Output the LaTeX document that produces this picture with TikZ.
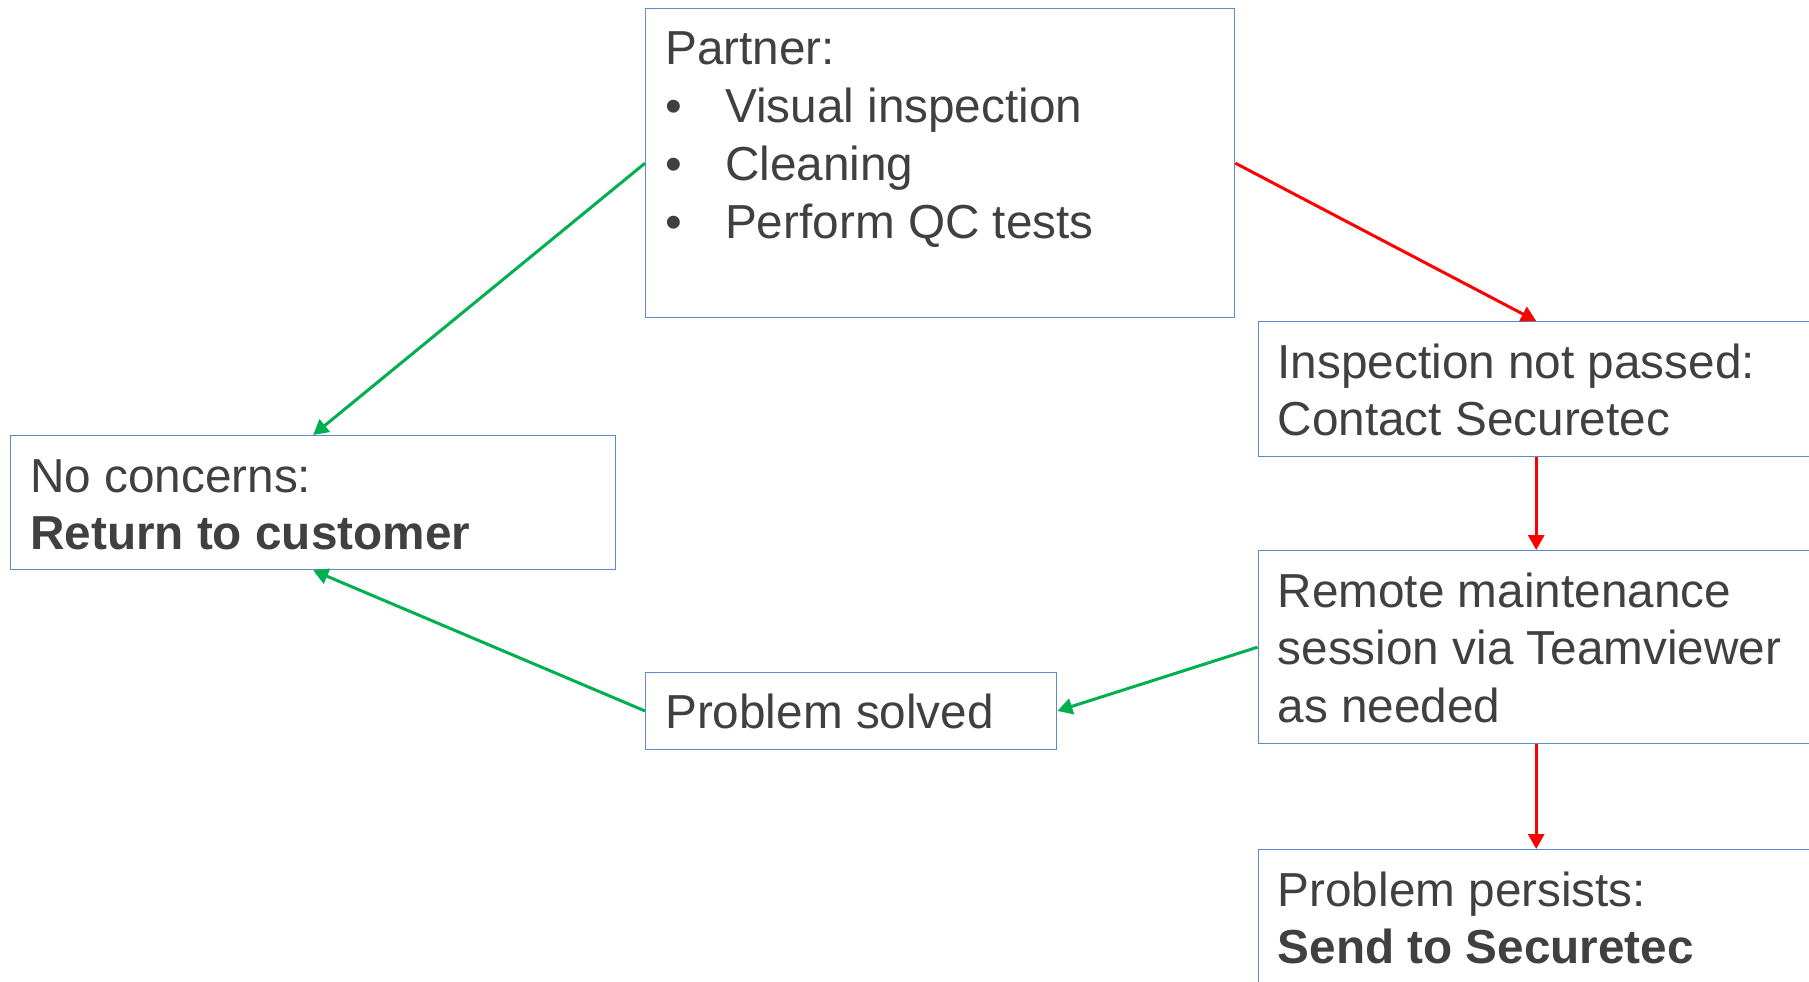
\documentclass[tikz,border=0pt]{standalone}
\usepackage{fontspec}
\setmainfont{Liberation Sans}
\usetikzlibrary{arrows.meta}
\definecolor{txt}{HTML}{404040}
\definecolor{boxblue}{HTML}{5B8AD0}
\definecolor{okgreen}{HTML}{00B050}
\definecolor{badred}{HTML}{FF0000}
\tikzset{
  box/.style={draw=boxblue, line width=1.4pt, anchor=north west, inner sep=0pt, rectangle},
  lbl/.style={anchor=base west, inner sep=0pt, text=txt, font=\fontsize{47.7}{57.7}\selectfont},
  conn/.style={line width=3pt, -{Triangle[length=15pt,width=16pt]}},
  good/.style={conn, draw=okgreen, fill=okgreen},
  bad/.style={conn, draw=badred, fill=badred}
}
\newcommand{\blt}{\makebox[60pt][l]{•}}
\begin{document}
\begin{tikzpicture}[x=1pt,y=-1pt]
\useasboundingbox (0,0) rectangle (1809,982);
\clip (0,0) rectangle (1809,982);
\fill[white] (0,0) rectangle (1809,982);
% boxes
\node[box, minimum width=589pt, minimum height=309pt] (partner) at (645,8) {};
\node[box, minimum width=605pt, minimum height=134pt] (noconc) at (10,435) {};
\node[box, minimum width=556pt, minimum height=135pt] (insp) at (1257.5,321) {};
\node[box, minimum width=556pt, minimum height=193pt] (remote) at (1257.5,550) {};
\node[box, minimum width=556pt, minimum height=160pt] (persist) at (1257.5,849) {};
\node[box, minimum width=411pt, minimum height=77.5pt] (solved) at (645,671.5) {};
% texts
\node[lbl] (partnertxt) at (665,65) {\parbox[t]{560pt}{Partner:\\\blt Visual inspection\\\blt Cleaning\\\blt Perform QC tests}};
\node[lbl] (noconctxt) at (30,492) {\parbox[t]{580pt}{No concerns:\\\textbf{Return to customer}}};
\node[lbl] (insptxt) at (1277.5,378) {\parbox[t]{540pt}{Inspection not passed:\\Contact Securetec}};
\node[lbl] (remotetxt) at (1277.5,607) {\parbox[t]{540pt}{Remote maintenance\\session via Teamviewer\\as needed}};
\node[lbl] (persisttxt) at (1277.5,906) {\parbox[t]{540pt}{Problem persists:\\\textbf{Send to Securetec}}};
\node[lbl] (solvedtxt) at (665,728) {Problem solved};
% connectors
\draw[good] (partner.west) -- (noconc.north);
\draw[bad] (partner.east) -- (insp.north);
\draw[bad] (insp.south) -- (remote.north);
\draw[bad] (remote.south) -- (persist.north);
\draw[good] (remote.west) -- (solved.east);
\draw[good] (solved.west) -- (noconc.south);
\end{tikzpicture}
\end{document}
